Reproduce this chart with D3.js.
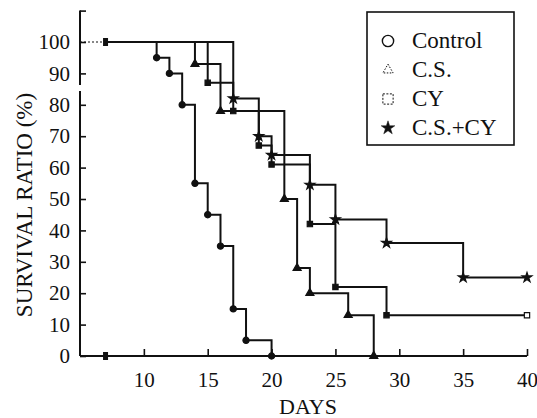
<!DOCTYPE html>
<html>
<head>
<meta charset="utf-8">
<script src="https://cdn.jsdelivr.net/npm/d3@7"></script>
<style>
body {margin: 0; background: #fff;}
svg {display: block;}
</style>
</head>
<body>
<svg id="chart" width="537" height="418"></svg>
<script>
// survival data (day of death step -> % surviving)
var start_day = 7;
var control_days = [7, 11, 12, 13, 14, 15, 16, 17, 18, 20];
var control_vals = [100, 95, 90, 80, 55, 45, 35, 15, 5, 0];
var cs_days = [7, 14, 16, 21, 22, 23, 26, 28];
var cs_vals = [100, 93, 78, 50, 28, 20, 13, 0];
var cy_days = [7, 15, 17, 19, 20, 23, 25, 29, 40];
var cy_vals = [100, 87, 78, 67, 61, 42, 22, 13, 13];
var cscy_days = [7, 17, 19, 20, 23, 25, 29, 35, 40];
var cscy_vals = [100, 82, 70, 64, 54.5, 43.5, 36, 25, 25];

var x_ticks = [10, 15, 20, 25, 30, 35, 40];
var y_ticks = [0, 10, 20, 30, 40, 50, 60, 70, 80, 90, 100, 110];
var legend_names = ["Control", "C.S.", "CY", "C.S.+CY"];

var serif = "'Liberation Serif'";
var svg = d3.select("#chart");
var x = d3.scaleLinear().domain([5, 40]).range([80, 527]);
var y = d3.scaleLinear().domain([0, 110]).range([356, 10.6]);
var ink = "#111";

// y axis, ticks pointing inwards, no label at the top tick
var gy = svg.append("g").attr("transform", "translate(80,0)")
	.call(d3.axisLeft(y).tickValues(y_ticks).tickSizeInner(-6).tickSizeOuter(0).tickPadding(10)
		.tickFormat(function(d){ return d > 100 ? "" : d; }));
gy.select(".domain").remove();
gy.selectAll("line").attr("stroke", ink).attr("stroke-width", 1.6);
gy.selectAll("text").style("font-family", serif).style("font-size", "21px").attr("fill", ink);

var gx = svg.append("g").attr("transform", "translate(0,356)")
	.call(d3.axisBottom(x).tickValues(x_ticks).tickSizeInner(-7).tickSizeOuter(0).tickPadding(16));
gx.select(".domain").remove();
gx.selectAll("line").attr("stroke", ink).attr("stroke-width", 1.6);
gx.selectAll("text").style("font-family", serif).style("font-size", "21px").attr("fill", ink);

// axis lines (y axis is broken between 80 and 90)
svg.append("line").attr("x1", 80).attr("x2", 80).attr("y1", y(110)).attr("y2", 85)
	.attr("stroke", ink).attr("stroke-width", 2);
svg.append("line").attr("x1", 80).attr("x2", 80).attr("y1", 91).attr("y2", y(0))
	.attr("stroke", ink).attr("stroke-width", 2);
svg.append("line").attr("x1", 80).attr("x2", x(40)).attr("y1", y(0)).attr("y2", y(0))
	.attr("stroke", ink).attr("stroke-width", 2);

svg.append("text").attr("x", 308).attr("y", 414).attr("text-anchor", "middle")
	.style("font-family", serif).attr("fill", ink).style("font-size", "22px").text("DAYS");
svg.append("text").attr("transform", "translate(32,205) rotate(-90)").attr("text-anchor", "middle")
	.style("font-family", serif).attr("fill", ink).style("font-size", "23px").text("SURVIVAL RATIO (%)");

// dotted lead-in before treatment day
svg.append("line").attr("x1", x(5)).attr("x2", x(start_day)).attr("y1", y(100)).attr("y2", y(100))
	.attr("stroke", ink).attr("stroke-width", 1.2).attr("stroke-dasharray", "2,2");

var step = d3.line()
	.x(function(d){ return x(d[0]); })
	.y(function(d){ return y(d[1]); })
	.curve(d3.curveStepAfter);

var series = [
	{name: "Control", pts: d3.zip(control_days, control_vals), sym: d3.symbolCircle, size: 30},
	{name: "C.S.", pts: d3.zip(cs_days, cs_vals), sym: d3.symbolTriangle, size: 28},
	{name: "CY", pts: d3.zip(cy_days, cy_vals), sym: d3.symbolSquare, size: 28},
	{name: "C.S.+CY", pts: d3.zip(cscy_days, cscy_vals), sym: d3.symbolStar, size: 30}
];

series.forEach(function(s){
	svg.append("path").datum(s.pts)
		.attr("d", step)
		.attr("fill", "none")
		.attr("stroke", ink)
		.attr("stroke-width", 2);
});

series.forEach(function(s){
	var last = s.pts.length - 1;
	svg.append("g").selectAll("path").data(s.pts.slice(1)).enter().append("path")
		.attr("d", d3.symbol().type(s.sym).size(s.size))
		.attr("transform", function(d){ return "translate(" + x(d[0]) + "," + y(d[1]) + ")"; })
		.attr("fill", function(d,i){ return (s.name == "CY" && i == last - 1) ? "#fff" : ink; })
		.attr("stroke", ink)
		.attr("stroke-width", 1.2);
});

// start marks at the treatment day
[100, 0].forEach(function(v){
	svg.append("rect").attr("x", x(start_day) - 2.5).attr("y", y(v) - 4)
		.attr("width", 5).attr("height", 8).attr("fill", ink);
});

// legend
svg.append("rect").attr("x", 367).attr("y", 12).attr("width", 147).attr("height", 133)
	.attr("fill", "none").attr("stroke", ink).attr("stroke-width", 1.6);

var legend_y = [48, 77, 106, 135];
var leg_sym = [
	{sym: d3.symbolCircle, size: 100, fill: "none", dash: null, w: 1.4},
	{sym: d3.symbolTriangle, size: 45, fill: "none", dash: "1.5,1.5", w: 1},
	{sym: d3.symbolSquare, size: 105, fill: "none", dash: "2,1.5", w: 1},
	{sym: d3.symbolStar, size: 58, fill: ink, dash: null, w: 0.5}
];
legend_names.forEach(function(n, i){
	svg.append("path")
		.attr("d", d3.symbol().type(leg_sym[i].sym).size(leg_sym[i].size))
		.attr("transform", "translate(388," + (legend_y[i] - 7) + ")")
		.attr("fill", leg_sym[i].fill)
		.attr("stroke", ink)
		.attr("stroke-width", leg_sym[i].w)
		.attr("stroke-dasharray", leg_sym[i].dash);
	svg.append("text").attr("x", 412).attr("y", legend_y[i])
		.style("font-family", serif).attr("fill", ink)
		.style("font-size", "23px").text(n);
});
</script>
</body>
</html>
